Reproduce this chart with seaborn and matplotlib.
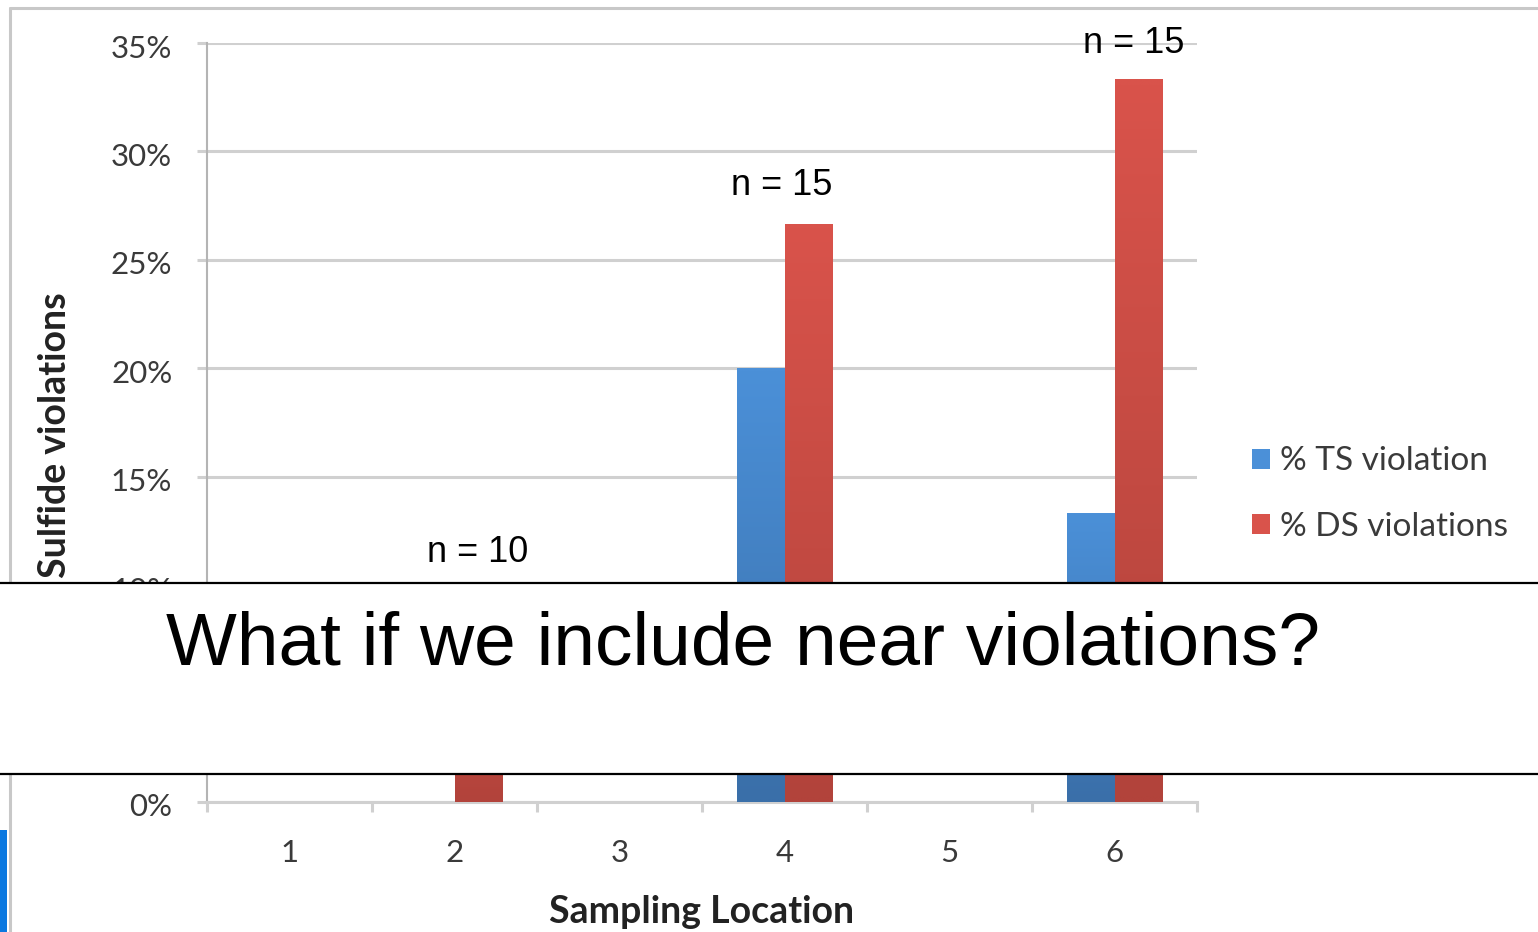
import numpy as np
import pandas as pd
import matplotlib
matplotlib.use("Agg")
import matplotlib.pyplot as plt
import matplotlib.colors as mcolors
import matplotlib.transforms as mtransforms
from matplotlib.patches import Rectangle, Patch
from matplotlib.lines import Line2D
import seaborn as sns

# Share of samples exceeding the sulfide limits at each sampling location
locations = ["1", "2", "3", "4", "5", "6"]
ts_violation = [0.0, 0.0, 0.0, 20.0, 0.0, 13.33]
ds_violations = [0.0, 10.0, 0.0, 26.67, 0.0, 33.33]
series_names = ["% TS violation", "% DS violations"]
sample_counts = ["", "n = 10", "", "n = 15", "", "n = 15"]
y_ticks = [0, 5, 10, 15, 20, 25, 30, 35]
y_tick_labels = [f"{v}%" for v in y_ticks]
overlay_text = "What if we include near violations?"

df = pd.DataFrame({
    "Sampling Location": locations * 2,
    "value": ts_violation + ds_violations,
    "series": [series_names[0]] * len(locations) + [series_names[1]] * len(locations),
})

top_colors = {"% TS violation": "#4b90d8", "% DS violations": "#d9534b"}
bottom_colors = {"% TS violation": "#3a6fa9", "% DS violations": "#b2433b"}

sns.set_theme(style="white")
plt.rcParams["font.family"] = ["Lato", "DejaVu Sans"]

W, H = 1538, 932
fig = plt.figure(figsize=(W / 100, H / 100), dpi=100)
fig.patch.set_facecolor("white")

ax = fig.add_axes([207 / W, 1 - 802 / H, (1197 - 207) / W, (802 - 43) / H])

sns.barplot(data=df, x="Sampling Location", y="value", hue="series",
            order=locations, hue_order=series_names,
            palette=top_colors, width=0.57, ax=ax, legend=False,
            saturation=1, linewidth=0, zorder=3)

# vertical gradient fill on each bar
for patch, series in zip(ax.patches, np.repeat(series_names, len(locations))):
    x0, y0 = patch.get_x(), patch.get_y()
    w, h = patch.get_width(), patch.get_height()
    if h <= 0:
        continue
    c_top = np.array(mcolors.to_rgb(top_colors[series]))
    c_bot = np.array(mcolors.to_rgb(bottom_colors[series]))
    t = np.linspace(0, 1, 64)[:, None]
    grad = (c_top * (1 - t) + c_bot * t)[:, None, :]
    im = ax.imshow(grad, extent=[x0, x0 + w, y0, y0 + h], origin="upper",
                   aspect="auto", zorder=3.5, interpolation="bilinear")
    im.set_clip_path(patch)
    patch.set_facecolor("none")

ax.set_xlim(-0.5, 5.5)
ax.set_ylim(0, 35)
ax.set_yticks(y_ticks)
ax.set_yticklabels(y_tick_labels)
ax.set_xticks(range(len(locations)))
ax.set_xticklabels(locations)
ax.set_xticks(np.arange(-0.5, len(locations)), minor=True)

grid_c = "#d0d0d0"
spine_c = "#b4b4b4"
ax.yaxis.grid(True, color=grid_c, linewidth=2.2, zorder=0)
ax.set_axisbelow(True)
for s in ["top", "right"]:
    ax.spines[s].set_visible(False)
ax.spines["left"].set_color(spine_c)
ax.spines["left"].set_linewidth(1.5)
ax.spines["bottom"].set_color(grid_c)
ax.spines["bottom"].set_linewidth(2.2)

ax.tick_params(axis="y", which="major", length=7, width=2.2, color=grid_c,
               pad=18, labelsize=22.5, labelcolor="#3a3a3a", left=True)
ax.tick_params(axis="x", which="major", length=0, pad=27, labelsize=22.5,
               labelcolor="#3a3a3a")
ax.tick_params(axis="x", which="minor", length=7, width=2.2, color=grid_c,
               bottom=True)

# nudge the percentage labels slightly below their gridlines
shift = mtransforms.ScaledTranslation(0, -3 / 100, fig.dpi_scale_trans)
for lbl in ax.get_yticklabels():
    lbl.set_transform(lbl.get_transform() + shift)

ax.set_xlabel("Sampling Location", fontsize=27, fontweight="bold",
              color="#222222", labelpad=20)
ax.set_ylabel("Sulfide violations", fontsize=27, fontweight="bold",
              color="#222222")
ax.yaxis.set_label_coords(-0.136, 0.483)

# sample size annotations above the bars
label_pos = {1: (1.14, 11.5), 3: (2.98, 28.45), 5: (5.115, 35.0)}
for i, (lx, ly) in label_pos.items():
    ax.text(lx, ly, sample_counts[i], ha="center", va="center",
            fontsize=26, family=["Liberation Sans"], color="black",
            clip_on=False, zorder=5)

handles = [Patch(facecolor=top_colors[s], edgecolor="none") for s in series_names]
leg = ax.legend(handles, series_names, loc="center left",
                bbox_to_anchor=(1222 / W, 1 - 494 / H),
                bbox_transform=fig.transFigure, frameon=False,
                fontsize=24, handlelength=0.55, handleheight=0.55,
                handletextpad=0.3, labelspacing=1.05)
for t in leg.get_texts():
    t.set_color("#3a3a3a")

# slide framing: outer border and left accent strip
fig.add_artist(Line2D([10 / W, 10 / W], [0, 1 - 8 / H], transform=fig.transFigure,
                      color="#c8c8c8", linewidth=2.2))
fig.add_artist(Line2D([10 / W, 1], [1 - 8 / H, 1 - 8 / H], transform=fig.transFigure,
                      color="#c8c8c8", linewidth=2.2))
fig.add_artist(Rectangle((0, 0), 7 / W, (932 - 830) / H, transform=fig.transFigure,
                         facecolor="#0a78e0", edgecolor="none"))

# white caption band across the chart
band_top, band_bot = 583, 774
fig.add_artist(Rectangle((0, 1 - band_bot / H), 1, (band_bot - band_top) / H,
                         transform=fig.transFigure, facecolor="white",
                         edgecolor="none", zorder=10))
for yy in (band_top, band_bot):
    fig.add_artist(Line2D([0, 1], [1 - yy / H, 1 - yy / H], transform=fig.transFigure,
                          color="black", linewidth=1.6, zorder=11))
fig.text(743 / W, 1 - 645 / H, overlay_text, ha="center", va="center",
         fontsize=54, family=["Liberation Sans"], color="black", zorder=12)

fig.savefig("out.png", dpi=100)
